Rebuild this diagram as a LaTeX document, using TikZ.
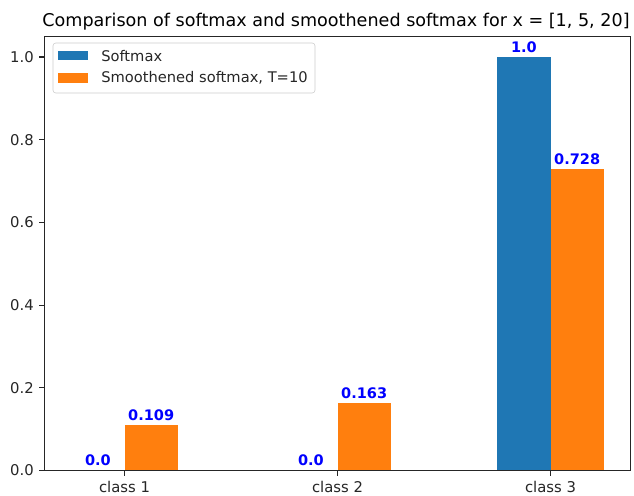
\documentclass[tikz,border=0pt]{standalone}
\usepackage{fontspec}
\setmainfont{DejaVu Sans}
\usepackage{tikz}
\usepackage{xcolor}
\usetikzlibrary{positioning}
\definecolor{mplblue}{HTML}{1F77B4}
\definecolor{mplorange}{HTML}{FF7F0E}
\definecolor{valblue}{HTML}{0000FF}
\tikzstyle{barlabel} = [text=valblue, font=\fontsize{10.5}{12}\selectfont\bfseries,
                        anchor=base, inner sep=0pt, yshift=3.3bp]
\tikzstyle{ticklabel} = [font=\fontsize{10.7}{12}\selectfont, text=black!85, inner sep=0pt]
\tikzstyle{spine} = [line width=0.8bp, black!85]
\tikzstyle{legtext} = [font=\fontsize{10.6}{12}\selectfont, text=black!85, anchor=west, inner sep=0pt]

\begin{document}
\begin{tikzpicture}[x=0.72bp, y=0.72bp]
\fill[white] (0,0) rectangle (634,496);
\useasboundingbox (0,0) rectangle (634,496);
\node[font=\fontsize{12.7}{14}\selectfont, anchor=base, inner sep=0pt] (title) at (336,469)
  {Comparison of softmax and smoothened softmax for x = [1, 5, 20]};
\begin{scope}[shift={(124.5,25.5)}, x=153.36bp, y=297.72bp]
% bars
\fill[mplblue] (1.75,0) rectangle (2,1.0);
\fill[mplorange] (0,0) rectangle (0.25,0.109);
\fill[mplorange] (1,0) rectangle (1.25,0.163);
\fill[mplorange] (2,0) rectangle (2.25,0.728);
% values
\node[barlabel] (v1a) at (-0.125,0) {0.0};
\node[barlabel] (v1b) at (0.125,0.109) {0.109};
\node[barlabel] (v2a) at (0.875,0) {0.0};
\node[barlabel] (v2b) at (1.125,0.163) {0.163};
\node[barlabel] (v3a) at (1.875,1.0) {1.0};
\node[barlabel] (v3b) at (2.125,0.728) {0.728};
% axes
\draw[spine] (-0.375,0) rectangle (2.375,1.05);
\foreach \v [count=\i] in {0.0,0.2,0.4,0.6,0.8,1.0}
  \draw[spine] (-0.375,\v) -- ++(-3.7bp,0)
    node[ticklabel, anchor=east, xshift=-3.7bp] (yt\i) {\v};
\foreach \c in {1,2,3}
  \draw[spine] (\c-1,0) -- ++(0,-3.7bp)
    node[ticklabel, anchor=north, yshift=-3.7bp] (xt\c) {class \c};
\end{scope}
% legend
\draw[black!20, rounded corners=2bp, fill=white, fill opacity=0.8] (53,403) rectangle (315,453);
\fill[mplblue] (58,436) rectangle (88,445);
\fill[mplorange] (58,413) rectangle (88,423);
\node[legtext] (lsoft) at (101,440) {Softmax};
\node[legtext] (lsmooth) at (101,418) {Smoothened softmax, T=10};
\end{tikzpicture}
\end{document}
